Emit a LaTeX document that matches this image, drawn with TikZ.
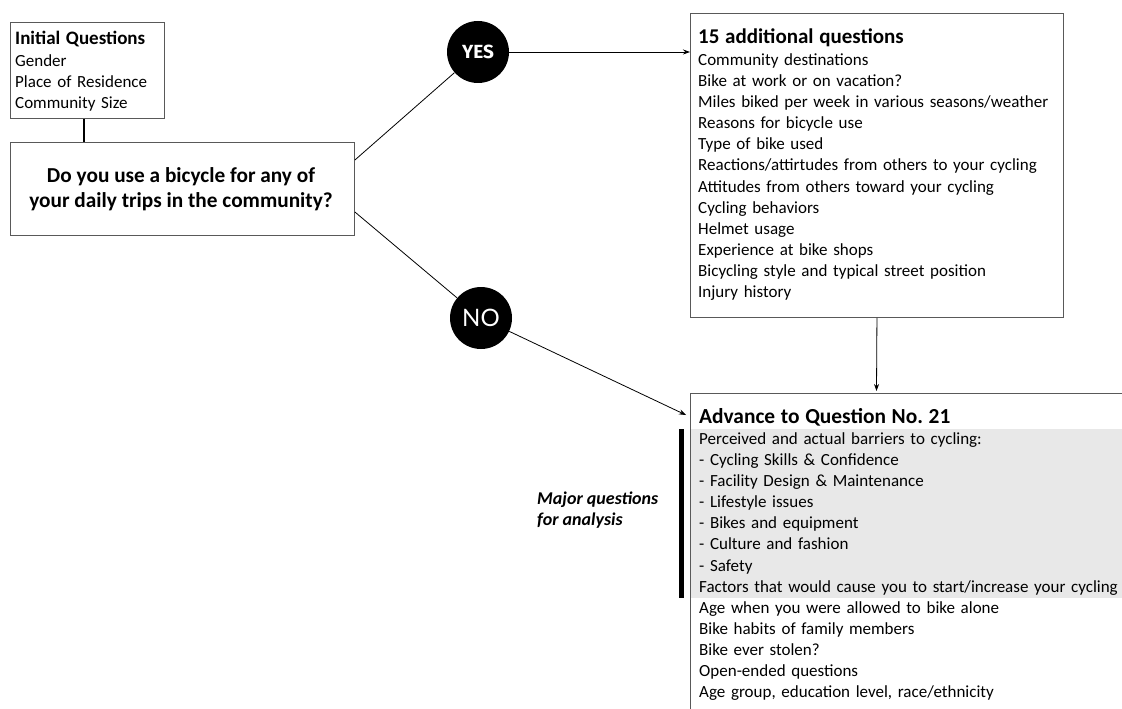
\documentclass[tikz,border=0pt]{standalone}
\usepackage{fontspec}
\setmainfont{Carlito}
\newfontfamily\circfont{Lato}
\newfontfamily\yesfont{Fira Sans}
\usetikzlibrary{arrows.meta,calc}
\frenchspacing
\begin{document}
\begin{tikzpicture}[x=1pt,y=-1pt,
  box/.style={draw=black!65, line width=0.9pt, inner sep=0pt, anchor=north west},
  txt/.style={inner sep=0pt, anchor=base west, align=left, font=\fontsize{17}{21.15}\selectfont},
  circ/.style={circle, fill=black, text=white, minimum size=62pt, inner sep=0pt},
  conn/.style={line width=0.8pt},
  arr/.style={conn, -{Stealth[length=7pt,width=5pt]}}
]
\useasboundingbox (0,0) rectangle (1122,709);
% initial questions
\node[box, minimum width=154pt, minimum height=96pt] (init) at (10,22) {};
\node[txt, text width=150pt] (initt) at (15,45) {{\bfseries\fontsize{19}{21}\selectfont Initial Questions}\\Gender\\Place of Residence\\Community Size};
% main question
\node[box, minimum width=344pt, minimum height=93pt] (q) at (10,142) {};
\node[font=\bfseries\fontsize{21.3}{25}\selectfont, align=center, inner sep=0pt, anchor=base] (qt) at (181,207) {Do you use a bicycle for any of\\your daily trips in the community?};
\draw[line width=2pt] ([xshift=-3pt]init.south) -- ([xshift=-3pt]init.south |- q.north);
% circles
\node[circ, font=\yesfont\bfseries\fontsize{19}{20}\selectfont] (yes) at (478,52) {YES};
\node[circ, font=\circfont\fontsize{24}{24}\selectfont] (no) at (481,318) {NO};
\draw[conn] ($(q.north east)+(0,18)$) -- (yes);
\draw[conn] ($(q.north east)+(0,70)$) -- (no);
% 15 additional questions
\node[box, minimum width=373pt, minimum height=304pt] (b15) at (690,13) {};
\node[txt, text width=368pt] (t15) at (698,44) {{\bfseries\fontsize{21}{21}\selectfont 15 additional questions}\\
Community destinations\\
Bike at work or on vacation?\\
Miles biked per week in various seasons/weather\\
Reasons for bicycle use\\
Type of bike used\\
Reactions/attirtudes from others to your cycling\\
Attitudes from others toward your cycling\\
Cycling behaviors\\
Helmet usage\\
Experience at bike shops\\
Bicycling style and typical street position\\
Injury history};
\draw[arr] (yes.east) -- (yes.east -| b15.west);
% advance box
\coordinate (advtop) at (876.5,391);
\coordinate (advw) at (686,415);
\fill[black!9] (690,429) rectangle (1125,598);
\draw[draw=black!65, line width=0.9pt] (1130,393) -- (690,393) -- (690,715);
\fill (679,429) rectangle (684,598);
\node[txt, text width=440pt] (advt) at (699,423) {{\bfseries\fontsize{21.4}{21}\selectfont Advance to Question No. 21}\\
Perceived and actual barriers to cycling:\\
- Cycling Skills \& Confidence\\
- Facility Design \& Maintenance\\
- Lifestyle issues\\
- Bikes and equipment\\
- Culture and fashion\\
- Safety\\
Factors that would cause you to start/increase your cycling\\
Age when you were allowed to bike alone\\
Bike habits of family members\\
Bike ever stolen?\\
Open-ended questions\\
Age group, education level, race/ethnicity};
\draw[arr] (b15.south) -- (advtop);
\draw[arr] (no) -- (advw);
\node[inner sep=0pt, anchor=base west, align=left, font=\bfseries\itshape\fontsize{18}{21}\selectfont] (maj) at (537,525) {Major questions\\for analysis};
\end{tikzpicture}
\end{document}
